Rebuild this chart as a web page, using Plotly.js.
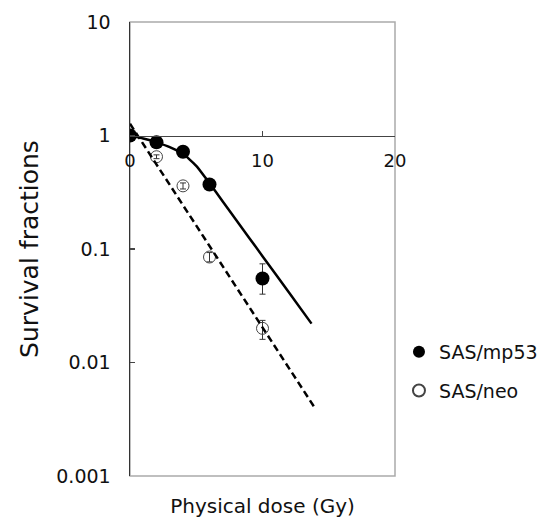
<!DOCTYPE html>
<html>
<head>
<meta charset="utf-8">
<script src="https://cdn.plot.ly/plotly-3.0.1.min.js"></script>
<style>html,body{margin:0;padding:0;background:#fff;}#chart{width:557px;height:523px;}</style>
</head>
<body>
<div id="chart"></div>
<script>
// Measured survival fractions
var dose = [0, 2, 4, 6, 10];
var mp53 = [1.0, 0.87, 0.72, 0.37, 0.055];
var mp53ErrPlus = [0, 0, 0, 0, 0.019];
var mp53ErrMinus = [0, 0, 0, 0, 0.015];
var neo = [1.0, 0.65, 0.36, 0.085, 0.020];
var neoErrPlus = [0, 0.025, 0.022, 0.008, 0.0035];
var neoErrMinus = [0, 0.025, 0.022, 0.008, 0.004];

// Fitted curves
var mp53FitDose = [0, 1, 2, 3, 4, 5, 6, 7, 8, 10, 12, 13.7];
var mp53Fit = [1.0, 0.94, 0.87, 0.79, 0.69, 0.54, 0.38, 0.262, 0.181, 0.0865, 0.0413, 0.022];
var neoFitDose = [0, 14];
var neoFit = [1.27, 0.0039];

var xTicks = [0, 10, 20];
var yTicks = [10, 1, 0.1, 0.01, 0.001];
var yTickText = ['10', '1', '0.1', '0.01', '0.001'];

var FONT = 'DejaVu Sans, Lucida Grande, sans-serif';

var traces = [
  {
    x: neoFitDose, y: neoFit, xaxis: 'x2', yaxis: 'y',
    mode: 'lines', showlegend: false, hoverinfo: 'skip',
    line: {color: '#000', width: 2.5, dash: '7px,4px'}
  },
  {
    x: mp53FitDose, y: mp53Fit, xaxis: 'x2', yaxis: 'y',
    mode: 'lines', showlegend: false, hoverinfo: 'skip',
    line: {color: '#000', width: 2.5, shape: 'spline', smoothing: 0.5}
  },
  {
    name: 'SAS/neo', legendgroup: 'neo', legendrank: 2,
    x: dose, y: neo, mode: 'markers',
    marker: {symbol: 'circle-open', size: 12, color: '#444', line: {width: 1, color: '#444'}},
    error_y: {type: 'data', symmetric: false, array: neoErrPlus, arrayminus: neoErrMinus,
              color: '#333', thickness: 1, width: 3}
  },
  {
    name: 'SAS/mp53', legendgroup: 'mp53', legendrank: 1,
    x: dose, y: mp53, mode: 'markers',
    marker: {symbol: 'circle', size: 14, color: '#000'},
    error_y: {type: 'data', symmetric: false, array: mp53ErrPlus, arrayminus: mp53ErrMinus,
              color: '#333', thickness: 1, width: 3}
  }
];

var layout = {
  width: 557, height: 523,
  margin: {l: 130, r: 162, t: 22, b: 47, pad: 0},
  paper_bgcolor: '#fff', plot_bgcolor: '#fff',
  font: {family: FONT, color: '#111', size: 18},
  showlegend: true,
  legend: {
    x: 1.015, y: 0.315, xanchor: 'left', yanchor: 'top',
    font: {family: FONT, size: 19, color: '#111'},
    traceorder: 'grouped', tracegroupgap: 11,
    itemsizing: 'constant', bgcolor: 'rgba(0,0,0,0)', borderwidth: 0
  },
  xaxis: {
    range: [0, 20], showgrid: false, zeroline: false, showline: false,
    showticklabels: false, ticks: '',
    title: {text: 'Physical dose (Gy)', font: {family: FONT, size: 20, color: '#111'}, standoff: 22}
  },
  xaxis2: {
    range: [0, 20], overlaying: 'x', anchor: 'free', position: 0.75, side: 'bottom',
    showgrid: false, zeroline: false, showline: true, linecolor: '#444', linewidth: 1.5,
    tickmode: 'array', tickvals: xTicks, ticktext: xTicks.map(String),
    ticks: 'inside', ticklen: 5, tickwidth: 1.2, tickcolor: '#444',
    tickfont: {family: FONT, size: 18, color: '#111'}, ticklabelstandoff: 8
  },
  yaxis: {
    type: 'log', range: [-3, 1], showgrid: false, zeroline: false,
    showline: true, linecolor: '#333', linewidth: 1.5,
    tickmode: 'array', tickvals: yTicks, ticktext: yTickText,
    ticks: 'inside', ticklen: 5, tickwidth: 1.2, tickcolor: '#444',
    tickfont: {family: FONT, size: 19, color: '#111'}, ticklabelstandoff: 14,
    title: {text: 'Survival fractions', font: {family: FONT, size: 25, color: '#111'}, standoff: 10}
  },
  shapes: [{
    type: 'rect', xref: 'paper', yref: 'paper', x0: 0, x1: 1, y0: 0, y1: 1,
    line: {color: '#aaa', width: 1.5}, layer: 'below'
  }]
};

Plotly.newPlot('chart', traces, layout, {displayModeBar: false, staticPlot: true});
</script>
</body>
</html>
